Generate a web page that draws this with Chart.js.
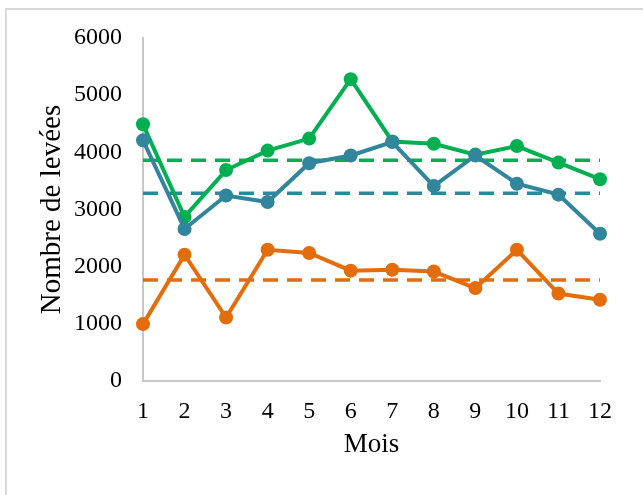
<!DOCTYPE html>
<html>
<head>
<meta charset="utf-8">
<script src="https://cdn.jsdelivr.net/npm/chart.js@4/dist/chart.umd.min.js"></script>
<style>
	body { margin: 0; background: #fff; }
	#cadre { position: absolute; left: 5px; top: 8px; width: 700px; height: 600px; border-left: 2px solid #d9d9d9; border-top: 2px solid #d9d9d9; }
	#boite { position: absolute; left: 0; top: 0; width: 643px; height: 495px; }
</style>
</head>
<body>
<div id="cadre"></div>
<div id="boite"><canvas id="levees" width="643" height="495"></canvas></div>
<script>
// données
const mois = ["1", "2", "3", "4", "5", "6", "7", "8", "9", "10", "11", "12"];
const serieVerte = [4490, 2870, 3690, 4030, 4240, 5280, 4190, 4150, 3960, 4110, 3820, 3530];
const serieBleue = [4210, 2660, 3245, 3130, 3810, 3945, 4180, 3410, 3945, 3450, 3260, 2575];
const serieOrange = [995, 2210, 1110, 2295, 2240, 1930, 1945, 1915, 1625, 2295, 1530, 1420];
const moyennes = [3860, 3286, 1766]; // verte, bleue, orange
const ticksY = [0, 1000, 2000, 3000, 4000, 5000, 6000];

const vert = "#00b050";
const bleu = "#31859c";
const orange = "#e46c0a";

function ligne(data, couleur, ordre) {
	return {
		data: data,
		borderColor: couleur,
		backgroundColor: couleur,
		borderWidth: 4,
		pointRadius: 7,
		pointBorderWidth: 0,
		pointBackgroundColor: couleur,
		tension: 0,
		order: ordre
	};
}

function moyenne(valeur, couleur) {
	return {
		data: [{ x: mois[0], y: valeur }, { x: mois[mois.length - 1], y: valeur }],
		borderColor: couleur,
		borderWidth: 3.5,
		borderDash: [15, 9],
		pointRadius: 0,
		order: 10
	};
}

const serif = "'Liberation Serif', 'Times New Roman', serif";

const ctx = document.getElementById("levees");
new Chart(ctx, {
	type: "line",
	data: {
		labels: mois,
		datasets: [
			moyenne(moyennes[0], vert),
			moyenne(moyennes[1], bleu),
			moyenne(moyennes[2], orange),
			ligne(serieVerte, vert, 3),
			ligne(serieBleue, bleu, 2),
			ligne(serieOrange, orange, 1)
		]
	},
	options: {
		responsive: false,
		animation: false,
		layout: { padding: { left: 0, top: 38, right: 43, bottom: 0 } },
		plugins: { legend: { display: false }, tooltip: { enabled: false } },
		scales: {
			x: {
				offset: false,
				grid: { display: false, drawTicks: false },
				border: { color: "#c8c8c8", width: 2 },
				ticks: { color: "#000", font: { family: serif, size: 24 }, padding: 16, maxRotation: 0, autoSkip: false },
				title: { display: true, text: "Mois", color: "#000", font: { family: serif, size: 27 }, padding: { bottom: 34 } },
				afterFit: (scale) => { scale.height = 114; }
			},
			y: {
				min: 0,
				max: 6000,
				afterBuildTicks: (scale) => { scale.ticks = ticksY.map((v) => ({ value: v })); },
				grid: { display: false, drawTicks: false },
				border: { color: "#c8c8c8", width: 2 },
				ticks: { color: "#000", font: { family: serif, size: 24 }, padding: 21, callback: (v) => String(v) },
				title: { display: true, text: "Nombre de levées", color: "#000", font: { family: serif, size: 29 }, padding: { top: 35 } },
				afterFit: (scale) => { scale.width = 143; }
			}
		}
	}
});
</script>
</body>
</html>
